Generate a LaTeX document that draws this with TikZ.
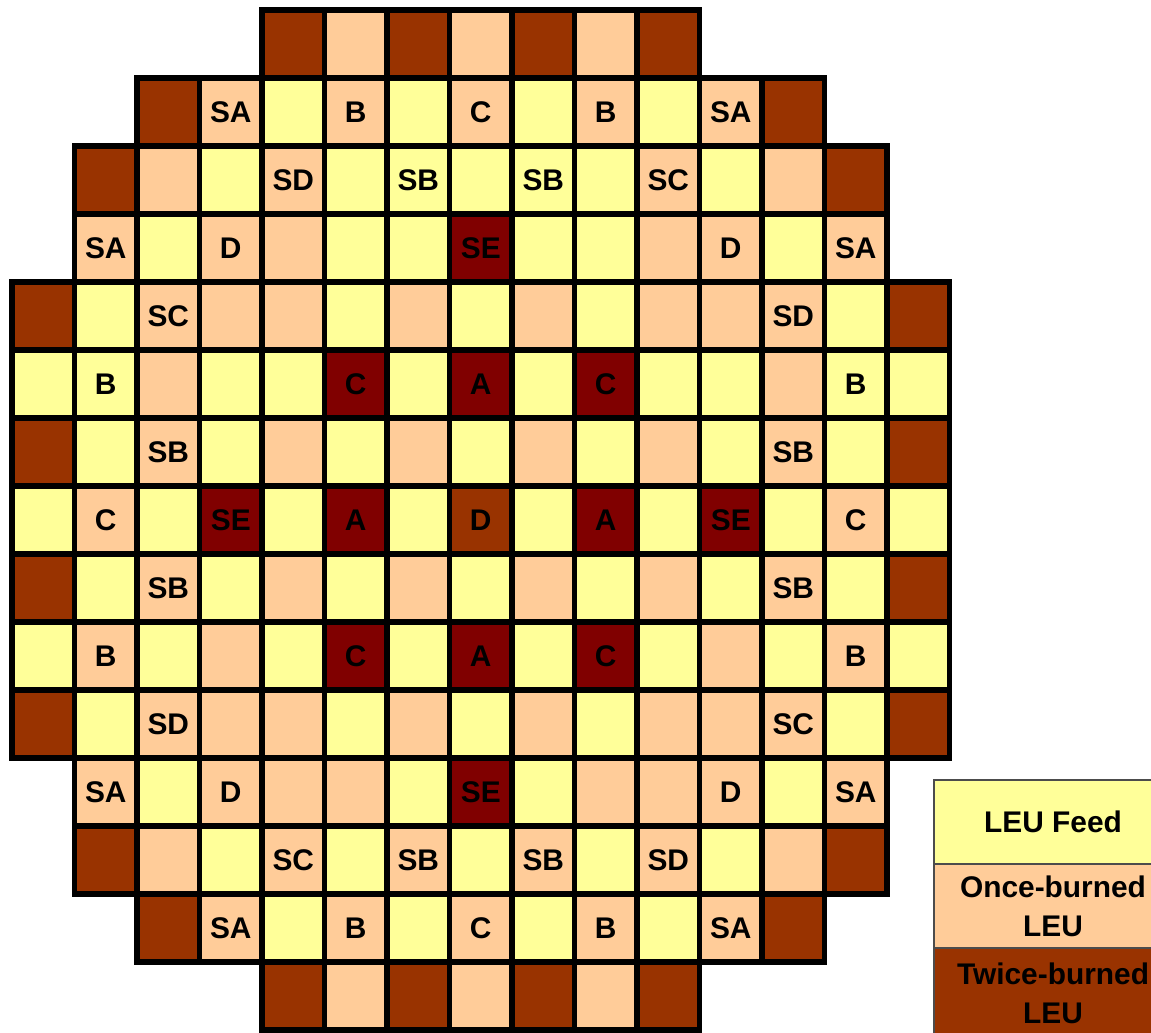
\documentclass[tikz,border=0pt]{standalone}
\usepackage{fontspec}
\setmainfont{Liberation Sans}
\usetikzlibrary{positioning}
\definecolor{FuelFeed}{HTML}{FFFF99}
\definecolor{FuelOnce}{HTML}{FFCC99}
\definecolor{FuelTwice}{HTML}{993300}
\definecolor{FuelHot}{HTML}{800000}
\colorlet{fuelY}{FuelFeed}\colorlet{fuelP}{FuelOnce}
\colorlet{fuelW}{FuelTwice}\colorlet{fuelR}{FuelHot}
\tikzset{every node/.style={font=\fontsize{8.5}{11}\selectfont\bfseries},
 assy/.style={draw=black,line width=0.55mm,minimum width=6.25mm,minimum height=6.8mm,
 inner sep=0pt,outer sep=0pt},
 key/.style={draw=black!70,line width=0.15mm,minimum width=23.8mm,minimum height=8.4mm,
 align=center,inner sep=0pt,outer sep=0pt}}
\begin{document}
\begin{tikzpicture}[x=0.1mm,y=-0.1mm]
\path[use as bounding box,clip] (0,0) rectangle (1151,1032);
\foreach \r/\s/\row in {
 0/4/{W/{},P/{},W/{},P/{},W/{},P/{},W/{}},
 1/2/{W/{},P/SA,Y/{},P/B,Y/{},P/C,Y/{},P/B,Y/{},P/SA,W/{}},
 2/1/{W/{},P/{},Y/{},P/SD,Y/{},Y/SB,Y/{},Y/SB,Y/{},P/SC,Y/{},P/{},W/{}},
 3/1/{P/SA,Y/{},P/D,P/{},Y/{},Y/{},R/SE,Y/{},Y/{},P/{},P/D,Y/{},P/SA},
 4/0/{W/{},Y/{},P/SC,P/{},P/{},Y/{},P/{},Y/{},P/{},Y/{},P/{},P/{},P/SD,Y/{},W/{}},
 5/0/{Y/{},Y/B,P/{},Y/{},Y/{},R/C,Y/{},R/A,Y/{},R/C,Y/{},Y/{},P/{},Y/B,Y/{}},
 6/0/{W/{},Y/{},P/SB,Y/{},P/{},Y/{},P/{},Y/{},P/{},Y/{},P/{},Y/{},P/SB,Y/{},W/{}},
 7/0/{Y/{},P/C,Y/{},R/SE,Y/{},R/A,Y/{},W/D,Y/{},R/A,Y/{},R/SE,Y/{},P/C,Y/{}},
 8/0/{W/{},Y/{},P/SB,Y/{},P/{},Y/{},P/{},Y/{},P/{},Y/{},P/{},Y/{},P/SB,Y/{},W/{}},
 9/0/{Y/{},P/B,Y/{},P/{},Y/{},R/C,Y/{},R/A,Y/{},R/C,Y/{},P/{},Y/{},P/B,Y/{}},
 10/0/{W/{},Y/{},P/SD,P/{},P/{},Y/{},P/{},Y/{},P/{},Y/{},P/{},P/{},P/SC,Y/{},W/{}},
 11/1/{P/SA,Y/{},P/D,P/{},P/{},Y/{},R/SE,Y/{},P/{},P/{},P/D,Y/{},P/SA},
 12/1/{W/{},P/{},Y/{},P/SC,Y/{},P/SB,Y/{},P/SB,Y/{},P/SD,Y/{},P/{},W/{}},
 13/2/{W/{},P/SA,Y/{},P/B,Y/{},P/C,Y/{},P/B,Y/{},P/SA,W/{}},
 14/4/{W/{},P/{},W/{},P/{},W/{},P/{},W/{}}}{
 \foreach \k/\t [count=\i from 0] in \row
  \node[assy,fill=fuel\k] (a\r-\i) at ({12+62.5*(\s+\i+.5)},{10+68*(\r+.5)}) {\t};
}
\node[key,fill=FuelFeed] (legFeed) at (1053,822) {LEU Feed};
\node[key,fill=FuelOnce,below=0pt of legFeed] (legOnce) {Once-burned\\LEU};
\node[key,fill=FuelTwice,minimum height=9mm,below=0pt of legOnce] (legTwice) {Twice-burned\\LEU};
\end{tikzpicture}
\end{document}
